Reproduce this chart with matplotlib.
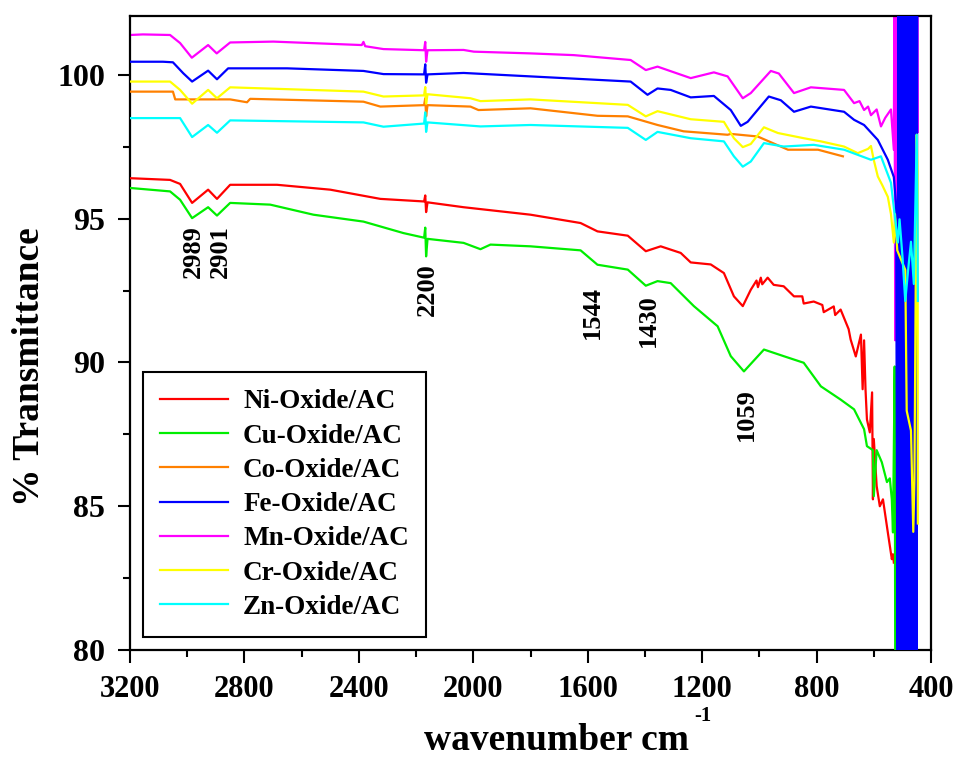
import numpy as np
import matplotlib
matplotlib.use("Agg")
import matplotlib.pyplot as plt
from matplotlib.ticker import MultipleLocator

plt.rcParams['font.family'] = ['Liberation Serif', 'DejaVu Serif']
plt.rcParams['font.weight'] = 'bold'

# ── FTIR spectra: (wavenumber cm-1, % transmittance) ──
ni_pts = [(3200, 96.41), (3060, 96.35), (3025, 96.21), (2983, 95.55), (2927, 96.01),
          (2896, 95.69), (2850, 96.18), (2686, 96.18), (2500, 96.01), (2325, 95.69),
          (2172, 95.60), (2168, 95.81), (2165, 95.23), (2160, 95.57), (2034, 95.40),
          (1800, 95.14), (1625, 94.85), (1566, 94.56), (1460, 94.41), (1397, 93.87),
          (1345, 94.04), (1275, 93.81), (1240, 93.48), (1170, 93.41), (1124, 93.11),
          (1089, 92.30), (1058, 91.96), (1030, 92.53), (1010, 92.85), (1005, 92.62),
          (995, 92.95), (990, 92.72), (971, 92.95), (950, 92.70), (915, 92.65),
          (879, 92.30), (850, 92.30), (845, 92.05), (810, 92.12), (780, 92.0),
          (775, 91.75), (740, 91.95), (735, 91.65), (716, 91.84), (688, 91.16),
          (681, 90.80), (663, 90.21), (645, 90.97), (639, 89.07), (634, 90.77),
          (629, 89.07), (624, 88.02), (614, 87.57), (606, 88.96), (603, 85.24),
          (600, 87.34), (590, 85.70), (579, 85.00), (568, 85.24), (551, 84.09),
          (537, 83.16), (533, 83.33), (530, 83.04)]

cu_pts = [(3200, 96.07), (3060, 95.95), (3025, 95.66), (2983, 95.02), (2927, 95.40),
          (2896, 95.11), (2850, 95.55), (2710, 95.49), (2559, 95.14), (2384, 94.90),
          (2244, 94.50), (2172, 94.34), (2168, 94.69), (2165, 93.69), (2160, 94.30),
          (2034, 94.16), (1975, 93.94), (1940, 94.10), (1800, 94.04), (1625, 93.90),
          (1566, 93.40), (1460, 93.23), (1397, 92.67), (1356, 92.83), (1310, 92.76),
          (1229, 91.96), (1146, 91.26), (1100, 90.22), (1054, 89.69), (984, 90.45),
          (915, 90.22), (845, 89.99), (785, 89.17), (716, 88.71), (669, 88.37),
          (634, 87.68), (624, 87.09), (603, 86.95), (600, 85.35), (590, 86.95),
          (572, 86.53), (554, 85.84), (544, 85.97), (537, 85.24), (533, 84.09),
          (527, 89.86), (525, 79.0)]

co_pts = [(3200, 99.42), (3050, 99.42), (3042, 99.15), (2850, 99.15), (2791, 99.05),
          (2780, 99.17), (2384, 99.07), (2325, 98.90), (2172, 98.95), (2168, 99.19),
          (2165, 98.56), (2160, 98.95), (2010, 98.90), (1982, 98.78), (1800, 98.84),
          (1566, 98.58), (1460, 98.56), (1356, 98.26), (1265, 98.04), (1111, 97.92),
          (1100, 97.95), (1006, 97.86), (900, 97.40), (795, 97.40), (708, 97.17)]

fe_pts = [(3200, 100.46), (3085, 100.46), (3050, 100.44), (3014, 100.06), (2983, 99.77),
          (2927, 100.15), (2896, 99.85), (2857, 100.23), (2651, 100.23), (2384, 100.14),
          (2314, 100.03), (2172, 100.02), (2168, 100.37), (2165, 99.73), (2160, 100.02),
          (2034, 100.07), (1800, 99.95), (1450, 99.77), (1391, 99.31), (1356, 99.53),
          (1310, 99.48), (1240, 99.22), (1159, 99.27), (1100, 98.78), (1065, 98.23),
          (1041, 98.37), (967, 99.25), (925, 99.12), (879, 98.72), (820, 98.90),
          (704, 98.72), (669, 98.44), (634, 98.26), (586, 97.74), (551, 97.05),
          (530, 96.45), (522, 95.5),
          # saturated region below ~520 cm-1
          (517, 79), (514, 103), (511, 79), (508, 103), (505, 79), (502, 103),
          (499, 79), (496, 103), (493, 79), (490, 103), (487, 79), (484, 103),
          (481, 79), (478, 103), (475, 79), (472, 103), (469, 79), (466, 103),
          (463, 79), (460, 103), (457, 79), (454, 103), (451, 79), (448, 103)]

mn_pts = [(3200, 101.39), (3155, 101.41), (3060, 101.39), (3025, 101.11), (2984, 100.60),
          (2927, 101.04), (2897, 100.75), (2850, 101.13), (2699, 101.16), (2390, 101.04),
          (2384, 101.15), (2378, 101.00), (2314, 100.90), (2172, 100.86), (2168, 101.15),
          (2165, 100.46), (2160, 100.86), (2034, 100.87), (1998, 100.81), (1800, 100.75),
          (1649, 100.69), (1450, 100.52), (1397, 100.17), (1356, 100.29), (1240, 99.89),
          (1159, 100.09), (1111, 99.95), (1058, 99.19), (1030, 99.37), (960, 100.14),
          (932, 100.05), (879, 99.37), (820, 99.57), (704, 99.48), (669, 99.02),
          (650, 99.09), (634, 98.78), (620, 98.90), (610, 98.60), (590, 98.80),
          (575, 98.21), (560, 98.51), (540, 98.80), (530, 97.40), (528, 103),
          (525, 90.77), (522, 103), (519, 90.77), (516, 103), (447, 103), (446, 98.02)]

cr_pts = [(3200, 99.77), (3060, 99.77), (3025, 99.48), (2983, 99.00), (2927, 99.48),
          (2896, 99.19), (2850, 99.57), (2384, 99.42), (2314, 99.25), (2172, 99.29),
          (2168, 99.58), (2165, 99.00), (2160, 99.33), (2010, 99.19), (1975, 99.09),
          (1800, 99.15), (1460, 98.96), (1397, 98.56), (1356, 98.74), (1240, 98.46),
          (1124, 98.37), (1089, 97.80), (1058, 97.49), (1030, 97.60), (984, 98.18),
          (935, 97.98), (845, 97.80), (785, 97.69), (704, 97.51), (656, 97.28),
          (620, 97.43), (610, 97.53), (600, 97.04), (586, 96.47), (570, 96.16),
          (551, 95.76), (540, 95.16), (530, 94.17), (526, 95.16), (518, 93.90),
          (490, 93.22), (485, 88.32), (470, 87.63), (462, 84.11), (458, 85.88),
          (450, 97.92), (447, 96.65), (446, 84.40)]

zn_pts = [(3200, 98.50), (3025, 98.50), (2983, 97.84), (2927, 98.26), (2896, 97.99),
          (2850, 98.42), (2384, 98.35), (2314, 98.20), (2172, 98.31), (2168, 98.70),
          (2165, 98.02), (2160, 98.35), (1975, 98.21), (1800, 98.26), (1460, 98.16),
          (1397, 97.74), (1356, 98.02), (1240, 97.80), (1124, 97.69), (1089, 97.17),
          (1058, 96.81), (1030, 96.99), (984, 97.63), (915, 97.51), (810, 97.57),
          (704, 97.40), (610, 97.05), (575, 97.17), (540, 96.25), (516, 94.17),
          (510, 94.98), (500, 93.71), (490, 92.14), (480, 93.22), (470, 94.20),
          (460, 92.73), (450, 97.92), (447, 94.69), (446, 92.14)]

labels = ['Ni-Oxide/AC', 'Cu-Oxide/AC', 'Co-Oxide/AC', 'Fe-Oxide/AC',
          'Mn-Oxide/AC', 'Cr-Oxide/AC', 'Zn-Oxide/AC']
colors = ['#ff0000', '#00ee00', '#ff8000', '#0000ff', '#ff00ff', '#ffff00', '#00ffff']
zorders = [3, 3, 3, 3, 2, 4, 4]
series = [ni_pts, cu_pts, co_pts, fe_pts, mn_pts, cr_pts, zn_pts]

# band positions marked on the figure
peak_text = ['2989', '2901', '2200', '1544', '1430', '1059']
peak_x = [2980, 2885, 2160, 1583, 1387, 1047]
peak_y = [93.85, 93.85, 92.53, 91.74, 91.46, 88.19]

# ── Plot ─────────────────────────────────────────────────────────────────────
fig = plt.figure(figsize=(9.61, 7.59), dpi=100)
ax = fig.add_axes([0.1353, 0.1436, 0.8335, 0.8353])

for pts, lab, col, z in zip(series, labels, colors, zorders):
    arr = np.array(pts)
    ax.plot(arr[:, 0], arr[:, 1], color=col, lw=1.6, label=lab, zorder=z)

for t, x, y in zip(peak_text, peak_x, peak_y):
    ax.text(x, y, t, rotation=90, ha='center', va='center',
            fontsize=19, fontweight='bold')

ax.set_xlim(3200, 400)
ax.set_ylim(80, 102.05)
ax.xaxis.set_major_locator(MultipleLocator(400))
ax.xaxis.set_minor_locator(MultipleLocator(200))
ax.yaxis.set_major_locator(MultipleLocator(5))
ax.yaxis.set_minor_locator(MultipleLocator(2.5))
ax.tick_params(which='both', direction='out', width=1.5, top=False, right=False)
ax.tick_params(axis='x', which='major', length=9, labelsize=22, pad=9)
ax.tick_params(axis='y', which='major', length=9, labelsize=23, pad=9)
ax.tick_params(which='minor', length=5)
for sp in ax.spines.values():
    sp.set_linewidth(1.6)

fig.text(556 / 961, 1 - 740 / 759, 'wavenumber cm', ha='center', va='center',
         fontsize=27, fontweight='bold')
fig.text(703 / 961, 1 - 716 / 759, '-1', ha='center', va='center',
         fontsize=15, fontweight='bold')
fig.text(30 / 961, 1 - 367 / 759, '% Transmittance', ha='center', va='center',
         rotation=90, fontsize=27, fontweight='bold')

leg = ax.legend(loc='lower left', bbox_to_anchor=(0.016, 0.02), borderaxespad=0,
                fontsize=19.5, handlelength=2.5, handletextpad=0.55,
                labelspacing=0.34, borderpad=0.65, fancybox=False,
                edgecolor='black', framealpha=1)
leg.get_frame().set_linewidth(1.5)

plt.savefig('out.png', dpi=100)
